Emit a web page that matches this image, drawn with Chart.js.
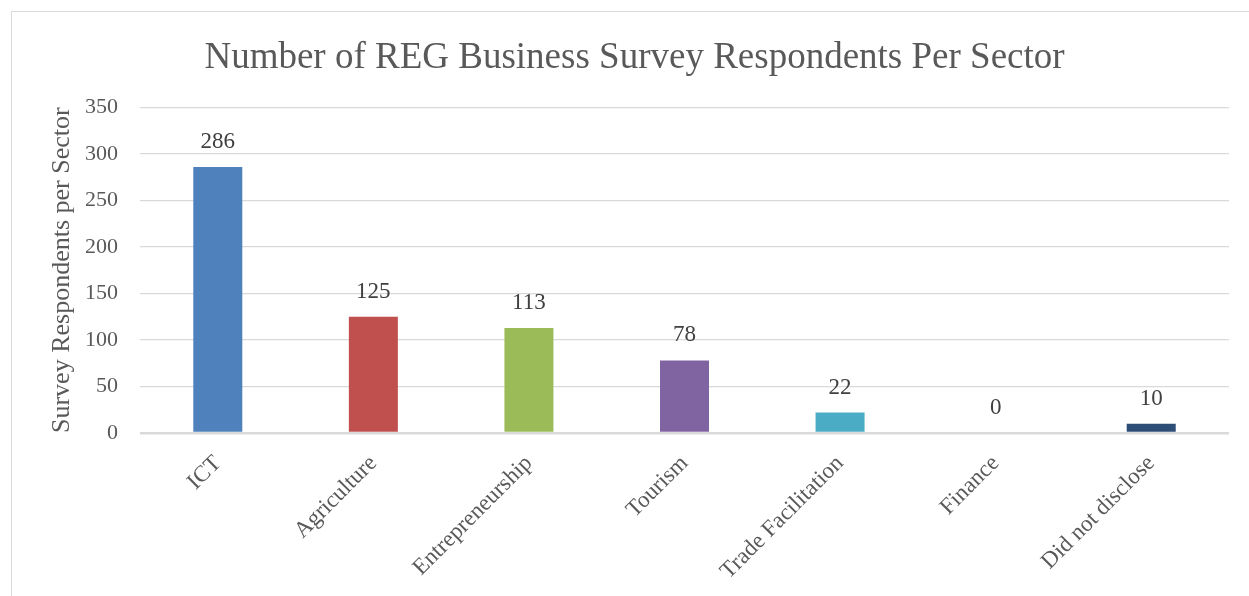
<!DOCTYPE html>
<html lang="en">
<head>
  <meta charset="UTF-8">
  <title>Number of REG Business Survey Respondents Per Sector</title>
  <script src="https://cdn.jsdelivr.net/npm/chart.js"></script>
  <style>
    body {
      margin: 0;
      overflow: hidden;
      background: #fff;
    }
    #frame {
      position: absolute;
      left: 11px;
      top: 11px;
      width: 1400px;
      height: 800px;
      border: 1.5px solid #d9d9d9;
      pointer-events: none;
    }
    canvas {
      position: absolute;
      left: 0;
      top: 0;
    }
  </style>
</head>
<body>
  <div id="frame"></div>
  <canvas id="sectorChart" width="1249" height="596"></canvas>

<script>
  const sectors = ['ICT', 'Agriculture', 'Entrepreneurship', 'Tourism', 'Trade Facilitation', 'Finance', 'Did not disclose'];
  const respondents = [286, 125, 113, 78, 22, 0, 10];
  const barColors = ['#4f81bd', '#c0504d', '#9bbb59', '#8064a2', '#4bacc6', '#f79646', '#2c4d75'];
  const yTicks = [0, 50, 100, 150, 200, 250, 300, 350];

  const serif = "'Liberation Serif', 'Times New Roman', serif";

  // value labels above each bar
  const valueLabels = {
    id: 'valueLabels',
    afterDatasetsDraw(chart) {
      const ctx = chart.ctx;
      const meta = chart.getDatasetMeta(0);
      ctx.save();
      ctx.font = '23px ' + serif;
      ctx.fillStyle = '#404040';
      ctx.textAlign = 'center';
      ctx.textBaseline = 'middle';
      meta.data.forEach((bar, i) => {
        ctx.fillText(String(respondents[i]), bar.x, bar.y - 25);
      });
      ctx.restore();
    }
  };

  new Chart(document.getElementById('sectorChart'), {
    type: 'bar',
    data: {
      labels: sectors,
      datasets: [{
        data: respondents,
        backgroundColor: barColors,
        borderWidth: 0,
        categoryPercentage: 1,
        barPercentage: 0.315
      }]
    },
    options: {
      responsive: false,
      animation: false,
      layout: {
        padding: { top: 36, left: 40, right: 20, bottom: 0 }
      },
      plugins: {
        legend: { display: false },
        tooltip: { enabled: false },
        title: {
          display: true,
          text: 'Number of REG Business Survey Respondents Per Sector',
          color: '#595959',
          font: { family: serif, size: 37, weight: 'normal' },
          padding: { top: 0, bottom: 27 }
        }
      },
      scales: {
        x: {
          grid: { display: false },
          border: { display: false },
          ticks: {
            color: '#595959',
            font: { family: serif, size: 23 },
            maxRotation: 45,
            minRotation: 45,
            padding: 9
          },
          afterFit(scale) {
            scale.height = 163;
          }
        },
        y: {
          min: 0,
          max: 350,
          border: { display: false },
          grid: {
            color: '#d9d9d9',
            drawTicks: false,
            lineWidth: c => (c.tick && c.tick.value === 0 ? 2.5 : 1.3)
          },
          afterBuildTicks(scale) {
            scale.ticks = yTicks.map(v => ({ value: v }));
          },
          ticks: {
            color: '#595959',
            font: { family: serif, size: 22 },
            padding: 22
          },
          title: {
            display: true,
            text: 'Survey Respondents per Sector',
            color: '#595959',
            font: { family: serif, size: 26, weight: 'normal' },
            padding: { top: 7, bottom: 0 }
          },
          afterFit(scale) {
            scale.width = 100;
          }
        }
      }
    },
    plugins: [valueLabels]
  });
</script>
</body>
</html>
